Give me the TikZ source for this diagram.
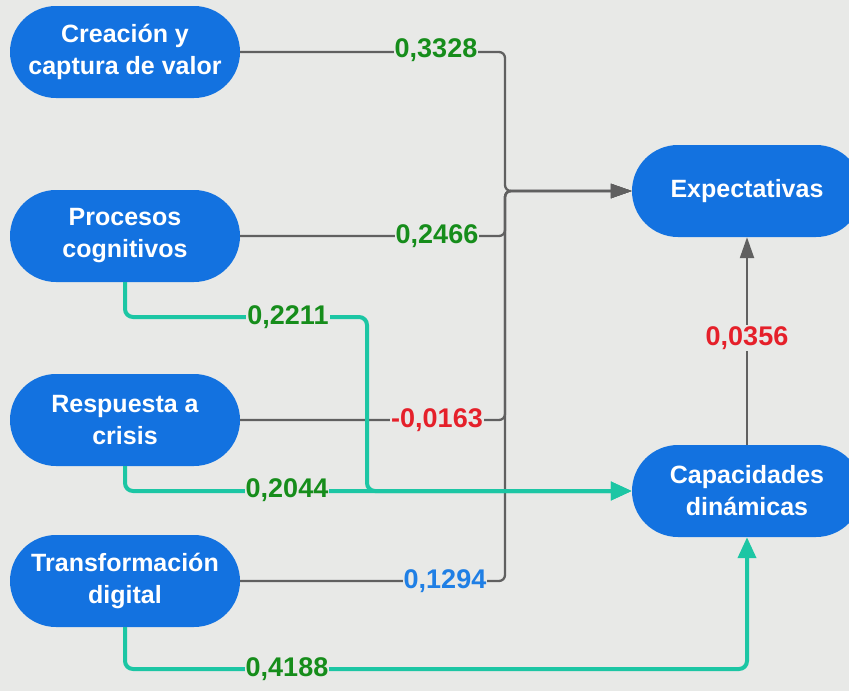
\documentclass[tikz,border=0pt]{standalone}
\usepackage{fontspec}
\setmainfont{Liberation Sans}
\usetikzlibrary{arrows.meta}
\definecolor{bgc}{HTML}{E8E9E7}
\definecolor{nodeblue}{HTML}{1372E0}
\definecolor{lgreen}{HTML}{168D1B}
\definecolor{lred}{HTML}{E5202A}
\definecolor{lblue}{HTML}{1F7FE5}
\definecolor{tealc}{HTML}{1CC6A4}
\definecolor{grayc}{HTML}{606060}
\tikzset{
  pill/.style={rectangle, rounded corners=46pt, fill=nodeblue, text=white,
    minimum width=230pt, minimum height=92pt, align=center, inner sep=0pt,
    font=\fontsize{25}{32}\selectfont\bfseries},
  glink/.style={draw=grayc, line width=2.3pt, rounded corners=6pt},
  garrow/.style={glink, -{Triangle[length=21pt,width=14pt]}},
  tlink/.style={draw=tealc, line width=4pt, rounded corners=8pt},
  tarrow/.style={tlink, -{Triangle[length=21pt,width=18pt]}},
  lab/.style={fill=bgc, inner sep=1pt, font=\fontsize{27}{27}\selectfont\bfseries}
}
\begin{document}
\begin{tikzpicture}[x=1pt,y=-1pt]
\clip (0,0) rectangle (849,691);
\fill[bgc] (0,0) rectangle (849,691);
\useasboundingbox (0,0) rectangle (849,691);
% nodes
\node[pill] (cre) at (125,52) {Creación y\\captura de valor};
\node[pill] (pro) at (125,236) {Procesos\\cognitivos};
\node[pill] (res) at (125,420) {Respuesta a\\crisis};
\node[pill] (tra) at (125,581) {Transformación\\digital};
\node[pill] (exp) at (747,191) {Expectativas};
\node[pill] (cap) at (747,491) {Capacidades\\dinámicas};
% helper coordinates
\coordinate (j) at (505,191);
\coordinate (c1) at (367,317);
\coordinate (c2) at (747,669);
% gray links
\draw[garrow] (cre.east) -| (j) -- (exp.west);
\draw[garrow] (pro.east) -| (j) -- (exp.west);
\draw[garrow] (res.east) -| (j) -- (exp.west);
\draw[garrow] (tra.east) -| (j) -- (exp.west);
\draw[garrow] (cap.north) -- (exp.south);
% teal links
\draw[tarrow] (pro.south) |- (c1) |- (cap.west);
\draw[tarrow] (res.south) |- (cap.west);
\draw[tarrow] (tra.south) |- (c2) -- (cap.south);
% labels
\node[lab, text=lgreen] (l1) at (436,50) {0,3328};
\node[lab, text=lgreen] (l2) at (437,236) {0,2466};
\node[lab, text=lred] (l3) at (437,420) {-0,0163};
\node[lab, text=lblue] (l4) at (445,581) {0,1294};
\node[lab, text=lgreen] (l5) at (288,317) {0,2211};
\node[lab, text=lgreen] (l6) at (287,490) {0,2044};
\node[lab, text=lgreen] (l7) at (287,669) {0,4188};
\node[lab, text=lred] (l8) at (747,338) {0,0356};
\end{tikzpicture}
\end{document}
